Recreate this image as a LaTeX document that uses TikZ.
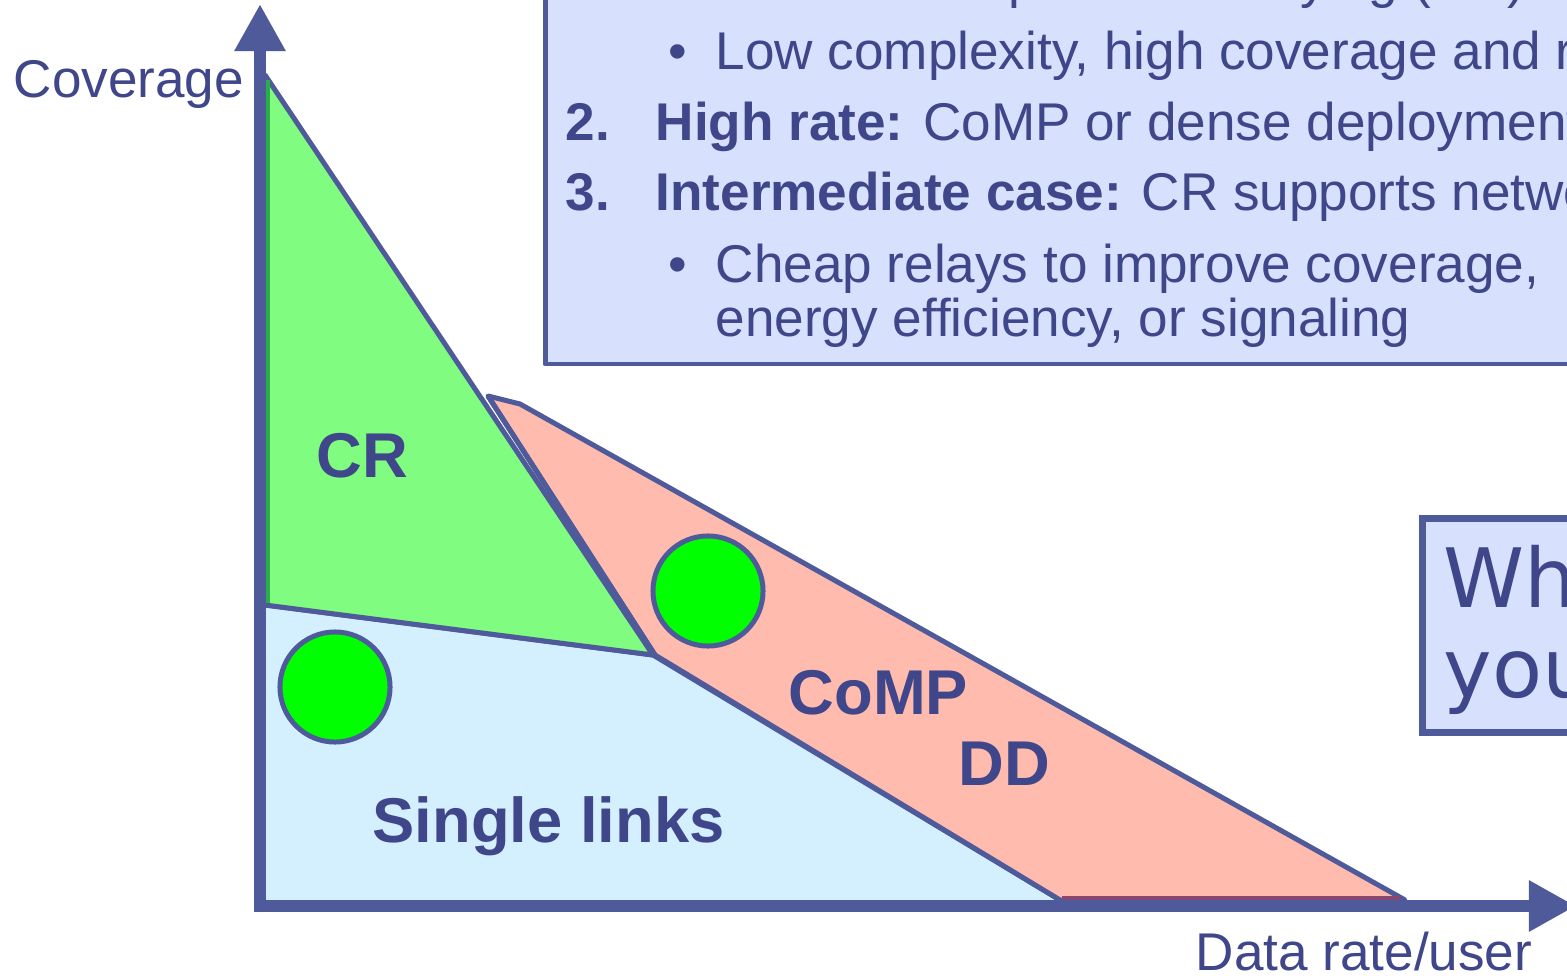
\documentclass[tikz,border=0pt]{standalone}
\usepackage{fontspec}
\setmainfont{Liberation Sans}
\newfontfamily\askfont{DejaVu Sans}
\usepackage{tikz}
\usetikzlibrary{arrows.meta}

\definecolor{axisblue}{HTML}{4F5A9B}
\definecolor{textblue}{HTML}{3F4689}
\definecolor{singlefill}{HTML}{D4EFFE}
\definecolor{crfill}{HTML}{80FC80}
\definecolor{crdark}{HTML}{2AAE4A}
\definecolor{compfill}{HTML}{FFBBAE}
\definecolor{compdark}{HTML}{884870}
\definecolor{relaygreen}{HTML}{00FF00}
\definecolor{boxfill}{HTML}{D7E0FC}

\begin{document}
\begin{tikzpicture}[x=0.01cm, y=-0.01cm,
  edge/.style={draw=axisblue, line width=1.42pt, line join=round},
  lbl/.style={text=textblue, font=\fontsize{18}{20}\selectfont\bfseries, anchor=base west, inner sep=0},
  note/.style={text=textblue, font=\fontsize{15.1}{18}\selectfont, anchor=base west, inner sep=0},
  relay/.style={circle, draw=axisblue, line width=1.42pt, fill=relaygreen, minimum size=1.1cm, inner sep=0}]
\useasboundingbox (0,0) rectangle (1567,976);
\fill[white] (0,0) rectangle (1567,976);

% regions
\fill[singlefill] (265,605) -- (653,655) -- (1060,900) -- (265,900) -- cycle;
\draw[edge] (265,605) -- (653,655) -- (1060,900);
\filldraw[edge, fill=crfill] (265,75) -- (653,655) -- (265,605) -- cycle;
\draw[crdark, line width=1.42pt] (267,80) -- (267,603);
\filldraw[edge, fill=compfill] (488,396) -- (520,404) -- (1405,900) -- (1060,900) -- (655,655) -- cycle;
\draw[edge] (488,396) -- (655,655);
\draw[compdark, line width=1.42pt] (1062,898) -- (1400,898);

% relays
\node[relay] (relayA) at (335,687) {};
\node[relay] (relayB) at (708,591) {};

% axes
\draw[axisblue, line width=3.41pt, line join=miter,
  {Triangle[length=0.47cm, width=0.48cm]}-{Triangle[length=0.47cm, width=0.48cm]}]
  (260,4) -- (260,906) -- (1576,906);
\node[note] (ylab) at (13,98) {Coverage};
\node[note] (xlab) at (1195,970) {Data rate/user};

% region labels
\node[lbl] (crlab) at (316,477) {CR};
\node[lbl] (singlelab) at (372,842) {Single links};
\node[lbl] (complab) at (788,714) {CoMP};
\node[lbl] (ddlab) at (958,785) {DD};

% list box
\filldraw[edge, fill=boxfill] (545,-20) rectangle (1600,364);
\foreach \n/\y in {1/-2, 2/141, 3/210} {
  \node[note, font=\fontsize{15.1}{18}\selectfont\bfseries] (num\n) at (565,\y) {\n.};
}
\node[note] (item1) at (655,-2) {\textbf{Low rate:} Cooperative relaying (CR)};
\node[note] (item2) at (655,141) {\textbf{High rate:} CoMP or dense deployment};
\node[note] (item3) at (655,210) {\textbf{Intermediate case:} CR supports network};
\foreach \y in {70, 282} {
  \node[note] at (668,\y) {•};
}
\node[note] (sub1) at (715,70) {Low complexity, high coverage and r};
\node[note] (sub2) at (715,282) {Cheap relays to improve coverage,};
\node[note] (sub3) at (715,336) {energy efficiency, or signaling};

% question box
\filldraw[draw=axisblue, line width=1.99pt, fill=boxfill] (1422,518) rectangle (1600,732);
\node[note, font=\askfont\fontsize{23.3}{26}\selectfont] (ask1) at (1443,607) {Wh};
\node[note, font=\askfont\fontsize{23.3}{26}\selectfont] (ask2) at (1443,697) {you};
\end{tikzpicture}
\end{document}
